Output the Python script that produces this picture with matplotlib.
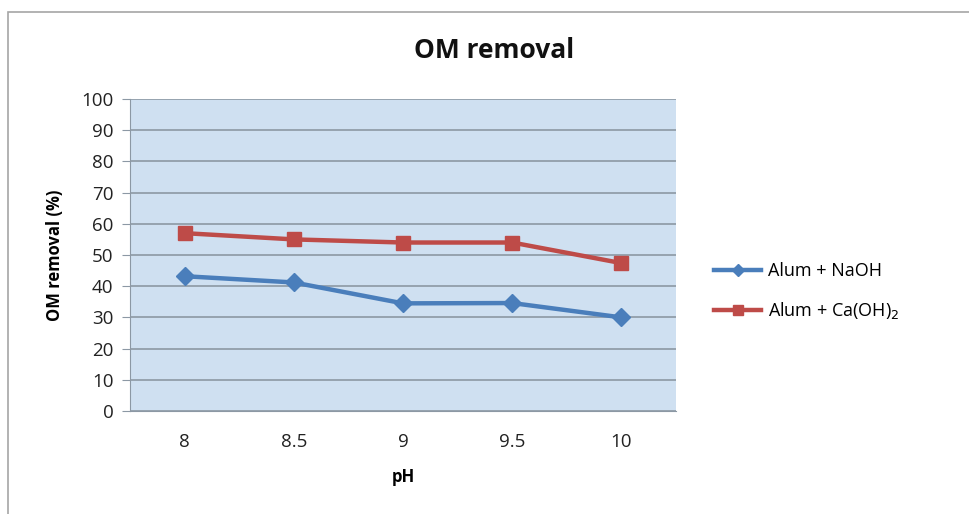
import numpy as np
import matplotlib.pyplot as plt
from matplotlib.patches import Rectangle

plt.rcParams['font.family'] = ['Open Sans', 'DejaVu Sans']

ph_labels = ['8', '8.5', '9', '9.5', '10']
naoh = [43.2, 41.2, 34.5, 34.6, 30.0]
caoh = [57.0, 55.0, 54.0, 54.0, 47.4]

fig = plt.figure(figsize=(9.69, 5.14), dpi=100)
ax = fig.add_axes([130 / 969, 1 - 411 / 514, 546 / 969, 312 / 514])

# outer chart border
fig.patches.append(Rectangle((8 / 969, -0.1), 1.2, 1 - 12 / 514 + 0.1,
                             transform=fig.transFigure, fill=False,
                             edgecolor='#a6a6a6', linewidth=1.2))

x = np.arange(len(ph_labels))
ax.set_facecolor('#cfe0f1')
ax.plot(x, naoh, color='#4a7ebb', linewidth=3.2, marker='D', markersize=9,
        label='Alum + NaOH')
ax.plot(x, caoh, color='#be4b48', linewidth=3.2, marker='s', markersize=10.5,
        label='Alum + Ca(OH)$_2$')

ax.set_xlim(-0.5, len(ph_labels) - 0.5)
ax.set_ylim(0, 100)
ax.set_yticks(range(0, 101, 10))
ax.set_xticks(x)
ax.set_xticklabels(ph_labels)
ax.yaxis.grid(True, color='#8c98a4', linewidth=1.2)
ax.set_axisbelow(True)
for s in ['top', 'right']:
    ax.spines[s].set_visible(False)
ax.spines['left'].set_color('#8c98a4')
ax.spines['bottom'].set_color('#8c98a4')
ax.tick_params(axis='x', length=0, pad=16, labelsize=13.5, colors='#222222')
ax.tick_params(axis='y', length=6, color='#8c98a4', labelsize=13.5,
               labelcolor='#222222', pad=6)

fig.text(494 / 969, 1 - 50 / 514, 'OM removal', fontsize=19, fontweight='bold',
         ha='center', va='center', color='#111111')
ax.set_xlabel('pH', fontsize=12, fontweight='bold', labelpad=12)
ax.set_ylabel('OM removal (%)', fontsize=12, fontweight='bold', labelpad=12)

fig.legend(loc='upper left', bbox_to_anchor=(698 / 969, 1 - 246 / 514),
           frameon=False, fontsize=13, handlelength=2.6, labelspacing=1.1,
           markerscale=0.65, handletextpad=0.4)

fig.savefig('out.png', dpi=100)
